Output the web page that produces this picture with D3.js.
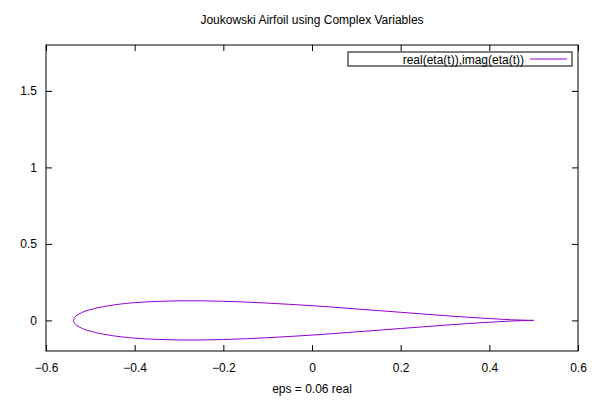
<!DOCTYPE html>
<html>
<head>
<meta charset="utf-8">
<script src="https://cdn.jsdelivr.net/npm/d3@7"></script>
<style>
  body { margin: 0; background: #fff; }
  svg { display: block; }
  text { font-family: "Liberation Sans", Arial, sans-serif; font-size: 12px; fill: #000; }
</style>
</head>
<body>
<svg id="chart" width="600" height="400"></svg>
<script>
// ---- data ----
const title = "Joukowski Airfoil using Complex Variables";
const xLabel = "eps = 0.06 real";
const seriesName = "real(eta(t)),imag(eta(t))";
const xTicks = [-0.6, -0.4, -0.2, 0, 0.2, 0.4, 0.6];
const yTicks = [0, 0.5, 1, 1.5];
const xDomain = [-0.6, 0.6];
const yDomain = [-0.2, 1.8];

// upper surface, leading edge to trailing edge
const upperX = [-0.538, -0.536, -0.530, -0.520, -0.510, -0.495, -0.480, -0.460, -0.440, -0.400,
                -0.350, -0.300, -0.250, -0.200, -0.150, -0.100, -0.050, 0.000, 0.050, 0.100,
                0.150, 0.200, 0.250, 0.300, 0.350, 0.400, 0.450, 0.500];
const upperY = [0.000, 0.017, 0.034, 0.050, 0.062, 0.074, 0.085, 0.095, 0.104, 0.116,
                0.124, 0.128, 0.128, 0.125, 0.120, 0.113, 0.105, 0.096, 0.086, 0.075,
                0.064, 0.053, 0.042, 0.031, 0.021, 0.012, 0.004, 0.000];
// lower surface, trailing edge to leading edge
const lowerX = [0.500, 0.450, 0.400, 0.350, 0.300, 0.250, 0.200, 0.150, 0.100, 0.050,
                0.000, -0.050, -0.100, -0.150, -0.200, -0.250, -0.300, -0.350, -0.400, -0.440,
                -0.460, -0.480, -0.495, -0.510, -0.520, -0.530, -0.536, -0.538];
const lowerY = [0.000, -0.004, -0.012, -0.021, -0.031, -0.042, -0.053, -0.064, -0.075, -0.086,
                -0.096, -0.105, -0.113, -0.120, -0.125, -0.128, -0.128, -0.124, -0.116, -0.104,
                -0.095, -0.085, -0.074, -0.062, -0.050, -0.034, -0.017, 0.000];

// ---- layout ----
const svg = d3.select("#chart");
const L = 46, R = 578, T = 45, B = 351;
const x = d3.scaleLinear().domain(xDomain).range([L, R]);
const y = d3.scaleLinear().domain(yDomain).range([B, T]);
const color = "#9400d3";
const tickLen = 6;

// axes (gnuplot style: inward ticks, mirrored)
const gB = svg.append("g").attr("transform", `translate(0,${B})`)
  .call(d3.axisBottom(x).tickValues(xTicks).tickSizeInner(-tickLen).tickSizeOuter(0).tickPadding(12)
    .tickFormat(d => d3.format("")(d).replace("-", "\u2212")));
const gT = svg.append("g").attr("transform", `translate(0,${T})`)
  .call(d3.axisTop(x).tickValues(xTicks).tickSizeInner(-tickLen).tickSizeOuter(0).tickFormat(""));
const gL = svg.append("g").attr("transform", `translate(${L},0)`)
  .call(d3.axisLeft(y).tickValues(yTicks).tickSizeInner(-tickLen).tickSizeOuter(0).tickPadding(9)
    .tickFormat(d => d3.format("")(d)));
const gR = svg.append("g").attr("transform", `translate(${R},0)`)
  .call(d3.axisRight(y).tickValues(yTicks).tickSizeInner(-tickLen).tickSizeOuter(0).tickFormat(""));
[gB, gT, gL, gR].forEach(g => {
  g.select(".domain").remove();
  g.selectAll("line").attr("stroke", "#000").attr("stroke-width", 1);
  g.selectAll("text").attr("font-family", "Liberation Sans, Arial, sans-serif").attr("font-size", 12.5).attr("fill", "#000");
});

// frame
svg.append("rect").attr("x", L).attr("y", T).attr("width", R - L).attr("height", B - T)
  .attr("fill", "none").attr("stroke", "#000").attr("stroke-width", 1);

// curve
const pts = upperX.map((v, i) => [v, upperY[i]]).concat(lowerX.map((v, i) => [v, lowerY[i]]));
const line = d3.line().x(d => x(d[0])).y(d => y(d[1])).curve(d3.curveCatmullRom.alpha(0.5));
svg.append("path").attr("d", line(pts)).attr("fill", "none").attr("stroke", color).attr("stroke-width", 1);

// title & label
svg.append("text").attr("x", (L + R) / 2).attr("y", 24).attr("text-anchor", "middle")
  .attr("font-size", 13).text(title);
svg.append("text").attr("x", (L + R) / 2).attr("y", 393).attr("text-anchor", "middle")
  .attr("font-size", 12.5).text(xLabel);

// legend
const lg = svg.append("g");
lg.append("rect").attr("x", 348).attr("y", 52).attr("width", 224).attr("height", 14)
  .attr("fill", "#fff").attr("stroke", "#000").attr("stroke-width", 1);
lg.append("text").attr("x", 524).attr("y", 63.5).attr("text-anchor", "end")
  .attr("font-size", 12.5).text(seriesName);
lg.append("line").attr("x1", 530).attr("x2", 567).attr("y1", 59).attr("y2", 59)
  .attr("stroke", color).attr("stroke-width", 1);
</script>
</body>
</html>
